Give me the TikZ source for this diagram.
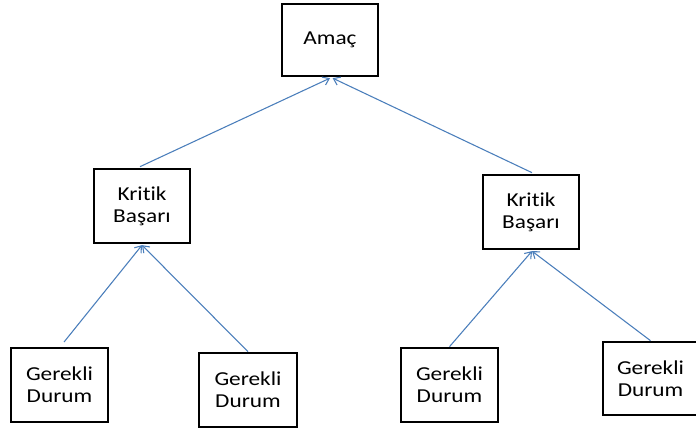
\documentclass[tikz,border=0pt]{standalone}
\usepackage{fontspec}
\setmainfont[FakeStretch=1.18,Ligatures={NoCommon,NoRare,NoContextual}]{Carlito}
\usetikzlibrary{arrows.meta}
\definecolor{linkblue}{HTML}{4A7EBB}
\begin{document}
\begin{tikzpicture}[x=0.75pt,y=-0.75pt,
  box/.style={draw=black,line width=2pt,fill=white,align=center,
    minimum width=72pt,minimum height=55.5pt,inner sep=0pt,
    font=\fontsize{14.8}{16.5}\selectfont},
  link/.style={draw=linkblue,line width=0.8pt,
    -{Straight Barb[length=4.5pt,width=6.5pt]}}]
\useasboundingbox (0,0) rectangle (696,433);
\fill[white] (0,0) rectangle (696,433);

% goal
\node[box,minimum height=54pt] (amac) at (330,40) {Amaç};

% critical successes
\node[box] (kl) at (142,206) {Kritik\\Başarı};
\node[box] (kr) at (531,212) {Kritik\\Başarı};

% required conditions
\node[box,minimum width=72.75pt] (g1) at (59.5,385) {Gerekli\\Durum};
\node[box,minimum width=73.5pt]  (g2) at (248,390)  {Gerekli\\Durum};
\node[box,minimum width=72.75pt] (g3) at (449.5,385) {Gerekli\\Durum};
\node[box,minimum width=71.25pt,minimum height=54.75pt] (g4) at (650.5,378.5) {Gerekli\\Durum};

% links towards the goal
\draw[link] ([xshift=-1.5pt,yshift=0.75pt]kl.north) -- ([yshift=-0.6pt]amac.south);
\draw[link] ([xshift=0.75pt,yshift=0.75pt]kr.north) -- ([xshift=2pt,yshift=-0.6pt]amac.south);
\draw[link] ([xshift=3.4pt,yshift=3.5pt]g1.north) -- ([yshift=-0.6pt]kl.south);
\draw[link] (g2.north) -- ([yshift=-0.6pt]kl.south);
\draw[link] (g3.north) -- ([xshift=0.75pt,yshift=-0.6pt]kr.south);
\draw[link] (g4.north) -- ([xshift=0.75pt,yshift=-0.6pt]kr.south);
\end{tikzpicture}
\end{document}
